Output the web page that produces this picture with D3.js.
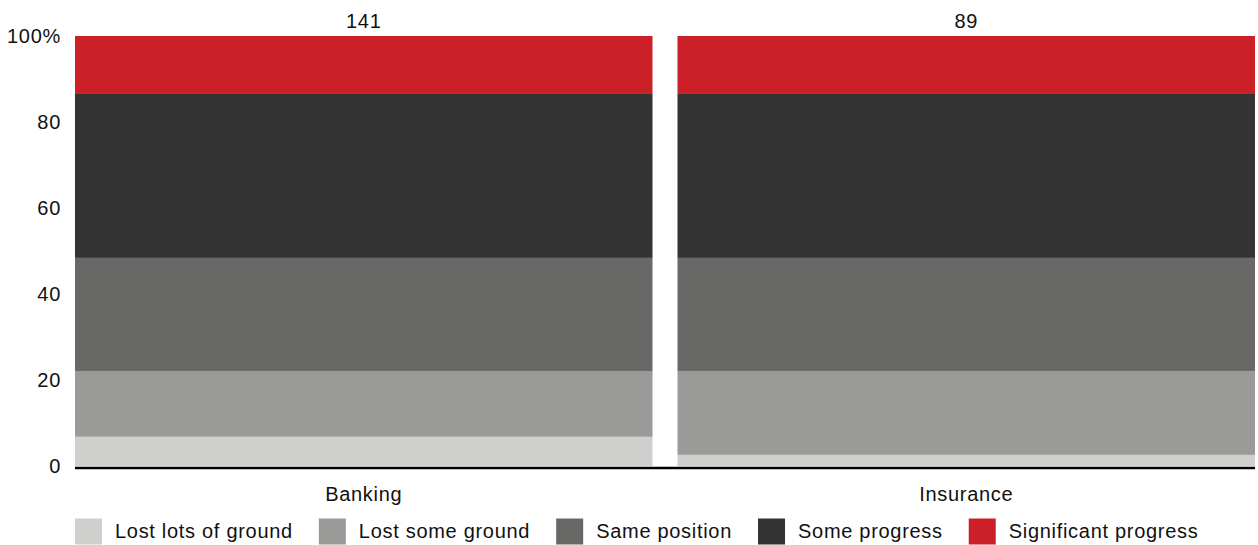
<!DOCTYPE html>
<html>
<head>
<meta charset="utf-8">
<script src="https://cdn.jsdelivr.net/npm/d3@7"></script>
<style>
  html, body { margin: 0; padding: 0; background: #fff; }
  svg { display: block; font-family: "Liberation Sans", Arial, Helvetica, sans-serif; }
  svg text { letter-spacing: 0.7px; }
</style>
</head>
<body>
<svg id="chart" width="1258" height="545"></svg>
<script>
// Share of respondents by change in position, per sector (percent)
const categories = ["Banking", "Insurance"];
const respondents = [141, 89];
const seriesNames = ["Lost lots of ground", "Lost some ground", "Same position", "Some progress", "Significant progress"];
const lostLots = [6.8, 2.6];
const lostSome = [15.3, 19.5];
const samePosition = [26.3, 26.3];
const someProgress = [38.3, 38.3];
const significantProgress = [13.3, 13.3];
const yTicks = [0, 20, 40, 60, 80, 100];
const colors = ["#cfcfcd", "#9a9a98", "#686967", "#333333", "#cc2029"];

const seriesValues = [lostLots, lostSome, samePosition, someProgress, significantProgress];
const rows = categories.map((c, i) => {
  const r = { category: c, n: respondents[i] };
  seriesNames.forEach((s, k) => { r[s] = seriesValues[k][i]; });
  return r;
});

const svg = d3.select("#chart");
const x = d3.scaleBand().domain(categories).range([75, 1255]).paddingInner(0.0415).paddingOuter(0);
const y = d3.scaleLinear().domain([0, 100]).range([466, 36]);

const stacked = d3.stack().keys(seriesNames)(rows);

svg.append("g").selectAll("g")
  .data(stacked)
  .join("g")
  .attr("fill", (d, i) => colors[i])
  .selectAll("rect")
  .data(d => d)
  .join("rect")
  .attr("x", d => x(d.data.category))
  .attr("width", x.bandwidth())
  .attr("y", d => y(d[1]))
  .attr("height", d => y(d[0]) - y(d[1]));

// Y axis labels (no axis line or ticks)
const yAxis = svg.append("g")
  .attr("transform", "translate(61,0)")
  .call(d3.axisLeft(y).tickValues(yTicks).tickSize(0).tickPadding(0)
    .tickFormat(d => d === 100 ? "100%" : d));
yAxis.select(".domain").remove();
yAxis.selectAll("text")
  .attr("font-size", 20)
  .attr("font-family", "Liberation Sans, Arial, sans-serif")
  .attr("fill", "#111");

// Baseline
svg.append("line")
  .attr("x1", 75).attr("x2", 1255)
  .attr("y1", y(0) + 2).attr("y2", y(0) + 2)
  .attr("stroke", "#000").attr("stroke-width", 2.6);

// Category labels
svg.append("g").selectAll("text")
  .data(categories)
  .join("text")
  .attr("x", d => x(d) + x.bandwidth() / 2)
  .attr("y", 501)
  .attr("text-anchor", "middle")
  .attr("font-size", 20)
  .attr("fill", "#111")
  .text(d => d);

// Respondent counts above bars
svg.append("g").selectAll("text")
  .data(rows)
  .join("text")
  .attr("x", d => x(d.category) + x.bandwidth() / 2)
  .attr("y", 28)
  .attr("text-anchor", "middle")
  .attr("font-size", 20)
  .attr("fill", "#111")
  .text(d => d.n);

// Legend
const legend = svg.append("g");
let lx = 75;
seriesNames.forEach((name, i) => {
  legend.append("rect")
    .attr("x", lx).attr("y", 518.5)
    .attr("width", 27).attr("height", 26)
    .attr("fill", colors[i]);
  const t = legend.append("text")
    .attr("x", lx + 40).attr("y", 538)
    .attr("font-size", 20)
    .attr("fill", "#111")
    .text(name);
  lx = lx + 40 + t.node().getComputedTextLength() + 26;
});
</script>
</body>
</html>
